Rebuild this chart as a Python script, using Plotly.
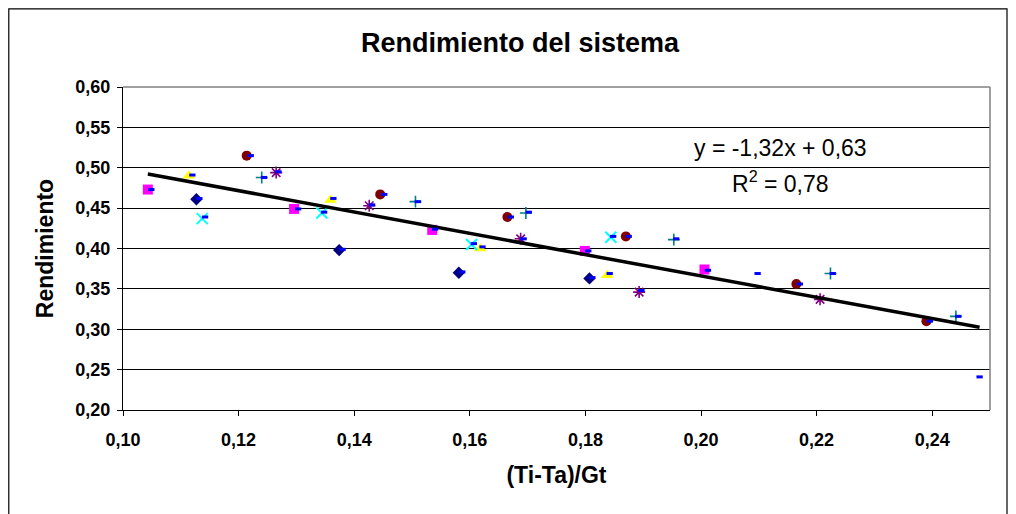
import plotly.graph_objects as go

# ---------------- data ----------------
diam_x = [0.1127, 0.1374, 0.1581, 0.1807]
diam_y = [0.461, 0.398, 0.370, 0.363]

sq_x = [0.1043, 0.1296, 0.1535, 0.1799, 0.2006]
sq_y = [0.473, 0.449, 0.423, 0.397, 0.374]

tri_x = [0.1114, 0.1359, 0.1618, 0.1838]
tri_y = [0.490, 0.460, 0.400, 0.367]

xm_x = [0.1137, 0.1344, 0.1603, 0.1844]
xm_y = [0.437, 0.444, 0.405, 0.414]

star_x = [0.1265, 0.1426, 0.1688, 0.1893, 0.2206]
star_y = [0.494, 0.453, 0.412, 0.346, 0.337]

circ_x = [0.1214, 0.1445, 0.1665, 0.1870, 0.2165, 0.2390]
circ_y = [0.515, 0.467, 0.439, 0.415, 0.356, 0.310]

plus_x = [0.1240, 0.1506, 0.1697, 0.1953, 0.2224, 0.2441]
plus_y = [0.488, 0.458, 0.444, 0.411, 0.369, 0.316]

dash_x = [0.1049, 0.1120, 0.1132, 0.1142, 0.1221, 0.1244, 0.1269, 0.1303,
          0.1348, 0.1364, 0.1380, 0.1431, 0.1452, 0.1510, 0.1540, 0.1587,
          0.1607, 0.1622, 0.1671, 0.1693, 0.1702, 0.1805, 0.1812, 0.1842,
          0.1848, 0.1875, 0.1897, 0.1957, 0.2012, 0.2098, 0.2171, 0.2228,
          0.2396, 0.2445, 0.2482]
dash_y = [0.473, 0.491, 0.462, 0.439, 0.515, 0.488, 0.495, 0.449,
          0.445, 0.462, 0.399, 0.454, 0.467, 0.458, 0.424, 0.371,
          0.406, 0.402, 0.439, 0.412, 0.445, 0.397, 0.364, 0.369,
          0.415, 0.415, 0.348, 0.412, 0.373, 0.369, 0.356, 0.369,
          0.310, 0.316, 0.241]

trend_slope = -1.32
trend_intercept = 0.63

x_ticks = [0.10, 0.12, 0.14, 0.16, 0.18, 0.20, 0.22, 0.24]
y_ticks = [0.20, 0.25, 0.30, 0.35, 0.40, 0.45, 0.50, 0.55, 0.60]

# ---------------- figure ----------------
# the page body has an 8px default margin, so the figure is 8px smaller
FONT = "Liberation Sans, Arial, sans-serif"
W, H = 1008, 506
fig = go.Figure()

def add_markers(xs, ys, symbol, color, size, line_w=0, line_color=None):
    fig.add_trace(go.Scatter(
        x=xs, y=ys, mode="markers", showlegend=False, hoverinfo="skip",
        marker=dict(symbol=symbol, color=color, size=size,
                    line=dict(width=line_w, color=line_color or color))))

add_markers(diam_x, diam_y, "diamond", "#000080", 9.5)
add_markers(sq_x, sq_y, "square", "#FF00FF", 10)
add_markers(tri_x, tri_y, "triangle-up", "#FFFF00", 11)
add_markers(xm_x, xm_y, "x-thin", "#00FFFF", 11, 2, "#00FFFF")
add_markers(star_x, star_y, "asterisk", "#800080", 10, 1.6, "#800080")
add_markers(circ_x, circ_y, "circle", "#800000", 10)
add_markers(plus_x, plus_y, "cross-thin", "#008080", 8.5, 1.6, "#008080")

all_x = diam_x + sq_x + tri_x + xm_x + star_x + circ_x + plus_x + dash_x
tx = [min(all_x), max(all_x)]
ty = [trend_slope * v + trend_intercept for v in tx]
fig.add_trace(go.Scatter(x=tx, y=ty, mode="lines", showlegend=False,
                         hoverinfo="skip", line=dict(color="#000000", width=3.5)))

add_markers(dash_x, dash_y, "line-ew", "#0000FF", 4.5, 3, "#0000FF")

PL, PR, PT, PB = 115, 26, 79, 104
pw, ph = W - PL - PR, H - PT - PB

fig.update_layout(
    width=W, height=H, autosize=False,
    margin=dict(l=PL, r=PR, t=PT, b=PB, pad=0),
    paper_bgcolor="white", plot_bgcolor="white",
    separators=", ",
    font=dict(family=FONT, color="black"),
    title=dict(text="<b>Rendimiento del sistema</b>", x=512 / W, xref="container",
               xanchor="center", y=1 - 35 / H, yref="container", yanchor="middle",
               font=dict(size=27, family=FONT, color="black")),
    xaxis=dict(range=[0.10, 0.25], tickvals=x_ticks, tickformat=".2f",
               showgrid=False, zeroline=False, showline=True, linecolor="black",
               linewidth=1, ticks="outside", ticklen=5, tickcolor="black",
               ticklabelstandoff=8,
               tickfont=dict(size=18, family=FONT, color="black", weight="bold"),
               title=dict(text="<b>(Ti-Ta)/Gt</b>", standoff=18,
                          font=dict(size=23, family=FONT, color="black"))),
    yaxis=dict(range=[0.20, 0.60], tickvals=y_ticks, tickformat=".2f",
               showgrid=True, gridcolor="black", gridwidth=1, zeroline=False,
               showline=True, linecolor="black", linewidth=1,
               ticks="outside", ticklen=5, tickcolor="black",
               ticklabelstandoff=3,
               tickfont=dict(size=18, family=FONT, color="black", weight="bold"),
               title=dict(text="<b>Rendimiento</b>", standoff=15,
                          font=dict(size=23, family=FONT, color="black"))),
    shapes=[
        # gray top and right border of plot area
        dict(type="line", xref="paper", yref="paper", x0=0, x1=1, y0=1, y1=1,
             line=dict(color="#808080", width=1.5), layer="above"),
        dict(type="line", xref="paper", yref="paper", x0=1, x1=1, y0=0, y1=1,
             line=dict(color="#808080", width=1.5), layer="above"),
        # outer chart frame (bottom edge falls below the visible page)
        dict(type="rect", xref="paper", yref="paper",
             x0=(0.8 - PL) / pw, x1=(999 - PL) / pw,
             y0=-(PB + 20) / ph, y1=(ph + PT - 0.8) / ph,
             line=dict(color="black", width=1.2), fillcolor="rgba(0,0,0,0)",
             layer="below"),
    ],
    annotations=[
        dict(text="y = -1,32x + 0,63", xref="paper", yref="paper",
             x=(780 - 123) / pw, y=(410 - 148.3) / ph, xanchor="center",
             yanchor="middle", showarrow=False,
             font=dict(size=23, family=FONT, color="black")),
        dict(text="R<sup>2</sup> = 0,78", xref="paper", yref="paper",
             x=(780.5 - 123) / pw, y=(410 - 181.7) / ph, xanchor="center",
             yanchor="middle", showarrow=False,
             font=dict(size=23, family=FONT, color="black")),
    ],
)

fig.write_html("out.html")
